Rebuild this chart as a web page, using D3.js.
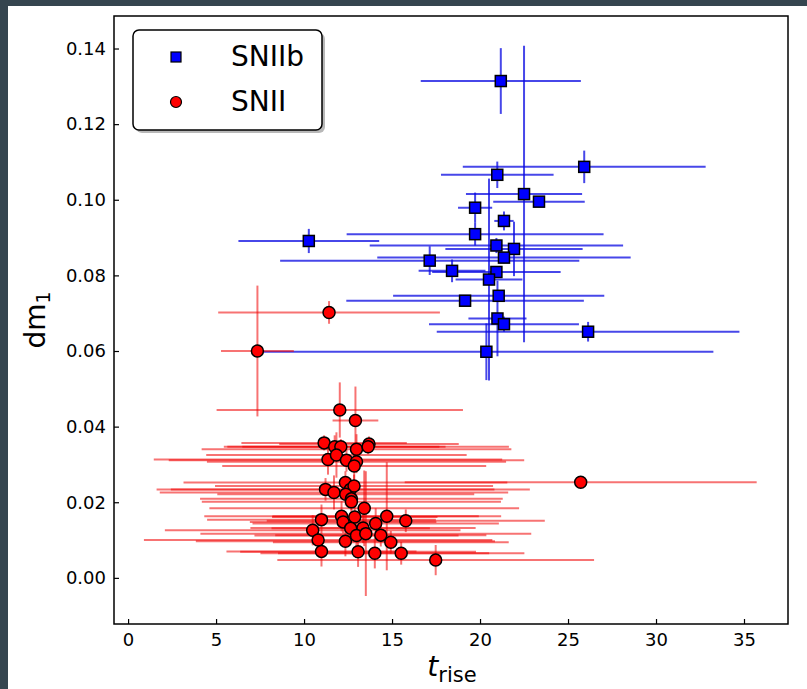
<!DOCTYPE html>
<html>
<head>
<meta charset="utf-8">
<script src="https://cdn.jsdelivr.net/npm/d3@7"></script>
<style>
  html, body { margin: 0; padding: 0; background: #35454f; }
  svg { display: block; }
  text { font-family: "DejaVu Sans", sans-serif; fill: #000; }
</style>
</head>
<body>
<svg id="chart" width="807" height="689"></svg>
<script>
// SNIIb: rise time, error, dm1, error
const snIIbTrise    = [21.18, 25.92, 20.98, 22.50, 23.35, 19.72, 21.36, 19.72, 20.93, 21.93, 21.36,
                       17.14, 10.27, 18.41, 20.93, 20.51, 21.06, 19.15, 20.99, 21.36, 26.14, 20.36];
const snIIbTriseErr = [4.55, 6.9, 3.2, 3.3, 2.6, 0.97, 0.55, 7.3, 7.2, 3.9, 7.2,
                       8.5, 4.0, 1.9, 3.65, 1.9, 6.0, 6.75, 1.65, 4.26, 8.6, 12.9];
const snIIbDm1      = [0.1314, 0.1087, 0.1066, 0.1015, 0.0995, 0.0979, 0.0944, 0.0909, 0.0879, 0.0870, 0.0847,
                       0.0839, 0.0891, 0.0812, 0.0809, 0.0789, 0.0746, 0.0733, 0.0686, 0.0671, 0.0651, 0.0598];
const snIIbDm1Err   = [0.0087, 0.0043, 0.0035, 0.0392, 0.0013, 0.0040, 0.0025, 0.0030, 0.0020, 0.0072, 0.0015,
                       0.0038, 0.0032, 0.0030, 0.0015, 0.0267, 0.0015, 0.0013, 0.0100, 0.0020, 0.0026, 0.0075];

// SNII
const snIITrise    = [12.03, 12.92, 11.14, 11.74, 12.09, 12.98, 13.69, 13.64, 11.36, 11.84, 12.41, 12.98,
                      12.85, 12.35, 11.22, 11.70, 12.63, 12.84, 12.37, 12.69, 12.69, 13.42, 10.99, 12.13,
                      12.22, 12.88, 14.70, 15.78, 10.49, 12.65, 13.35, 14.07, 12.98, 13.51, 14.36, 10.80,
                      12.35, 14.93, 10.99, 13.07, 14.02, 15.52, 11.42, 7.35, 25.72, 17.48];
const snIITriseErr = [7.0, 1.3, 4.7, 6.3, 5.6, 8.8, 5.1, 8.0, 9.9, 7.4, 10.1, 8.5,
                      7.5, 9.2, 9.6, 9.9, 10.2, 7.9, 7.3, 8.6, 8.5, 8.8, 6.5, 7.8,
                      5.3, 4.7, 6.5, 7.9, 8.4, 4.5, 6.4, 7.0, 5.8, 9.4, 6.0, 9.9,
                      8.5, 6.7, 5.4, 6.7, 6.5, 7.0, 6.3, 2.07, 10.0, 9.0];
const snIIDm1      = [0.0444, 0.0416, 0.0357, 0.0347, 0.0347, 0.0340, 0.0354, 0.0347, 0.0313, 0.0325, 0.0311, 0.0307,
                      0.0296, 0.0252, 0.0234, 0.0226, 0.0234, 0.0243, 0.0221, 0.0209, 0.0201, 0.0184, 0.0154, 0.0163,
                      0.0148, 0.0161, 0.0163, 0.0151, 0.0126, 0.0131, 0.0132, 0.0144, 0.0112, 0.0117, 0.0113, 0.0100,
                      0.0097, 0.0094, 0.0070, 0.0069, 0.0065, 0.0065, 0.0702, 0.0600, 0.0253, 0.0047];
const snIIDm1Err   = [0.0073, 0.0090, 0.0020, 0.0030, 0.0020, 0.0040, 0.0020, 0.0020, 0.0040, 0.0060, 0.0030, 0.0030,
                      0.0040, 0.0030, 0.0030, 0.0045, 0.0030, 0.0030, 0.0030, 0.0030, 0.0030, 0.0100, 0.0040, 0.0040,
                      0.0030, 0.0030, 0.0143, 0.0030, 0.0040, 0.0030, 0.0040, 0.0040, 0.0040, 0.0165, 0.0030, 0.0040,
                      0.0040, 0.0030, 0.0040, 0.0040, 0.0040, 0.0030, 0.0030, 0.0173, 0.0015, 0.0040];

const xTicks = [0, 5, 10, 15, 20, 25, 30, 35];
const yTicks = [0.00, 0.02, 0.04, 0.06, 0.08, 0.10, 0.12, 0.14];

const svg = d3.select('#chart');

// white figure area
svg.append('rect').attr('x', 8).attr('y', 6).attr('width', 799).attr('height', 683).attr('fill', '#fff');

const axLeft = 114, axRight = 788, axTop = 16, axBottom = 624;
const x = d3.scaleLinear().domain([-0.8, 37.5]).range([axLeft, axRight]);
const y = d3.scaleLinear().domain([-0.0122, 0.1486]).range([axBottom, axTop]);

svg.append('clipPath').attr('id', 'plotclip')
    .append('rect').attr('x', axLeft).attr('y', axTop)
    .attr('width', axRight - axLeft).attr('height', axBottom - axTop);

const plot = svg.append('g').attr('clip-path', 'url(#plotclip)');

function makeRows(tr, trE, dm, dmE) {
    return tr.map((v, i) => ({ x: v, xe: trE[i], y: dm[i], ye: dmE[i] }));
}
const snIIb = makeRows(snIIbTrise, snIIbTriseErr, snIIbDm1, snIIbDm1Err);
const snII = makeRows(snIITrise, snIITriseErr, snIIDm1, snIIDm1Err);

function errorBars(g, data, color) {
    const eb = g.append('g').attr('stroke', color).attr('stroke-width', 2);
    eb.selectAll('line.h').data(data).join('line').attr('class', 'h')
        .attr('x1', d => x(d.x - d.xe)).attr('x2', d => x(d.x + d.xe))
        .attr('y1', d => y(d.y)).attr('y2', d => y(d.y));
    eb.selectAll('line.v').data(data).join('line').attr('class', 'v')
        .attr('x1', d => x(d.x)).attr('x2', d => x(d.x))
        .attr('y1', d => y(d.y - d.ye)).attr('y2', d => y(d.y + d.ye));
}

errorBars(plot, snIIb, 'rgba(10,10,225,0.75)');
plot.append('g').selectAll('rect').data(snIIb).join('rect')
    .attr('x', d => x(d.x) - 5.5).attr('y', d => y(d.y) - 5.5)
    .attr('width', 11).attr('height', 11)
    .attr('fill', '#0000ff').attr('stroke', '#000').attr('stroke-width', 1.5);

errorBars(plot, snII, 'rgba(240,0,0,0.55)');
plot.append('g').selectAll('circle').data(snII).join('circle')
    .attr('cx', d => x(d.x)).attr('cy', d => y(d.y)).attr('r', 6)
    .attr('fill', '#ff0000').attr('stroke', '#000').attr('stroke-width', 1.5);

// axes, ticks pointing inward
const xAxis = svg.append('g').attr('transform', `translate(0,${axBottom})`)
    .call(d3.axisBottom(x).tickValues(xTicks).tickFormat(d3.format('d')).tickSize(-5).tickPadding(9));
const yAxis = svg.append('g').attr('transform', `translate(${axLeft},0)`)
    .call(d3.axisLeft(y).tickValues(yTicks).tickFormat(d3.format('.2f')).tickSize(-5).tickPadding(8));
[xAxis, yAxis].forEach(a => {
    a.select('.domain').remove();
    a.selectAll('.tick line').attr('stroke', '#000').attr('stroke-width', 1.2);
    a.selectAll('.tick text').attr('font-size', 18).attr('font-family', '"DejaVu Sans", sans-serif').attr('fill', '#222');
});

svg.append('rect').attr('x', axLeft).attr('y', axTop)
    .attr('width', axRight - axLeft).attr('height', axBottom - axTop)
    .attr('fill', 'none').attr('stroke', '#000').attr('stroke-width', 1.5);

// axis labels
const yl = svg.append('text').attr('transform', 'translate(45,320) rotate(-90)')
    .attr('text-anchor', 'middle').attr('font-size', 28).attr('fill', '#222');
yl.append('tspan').text('dm');
yl.append('tspan').attr('font-size', 19).attr('dy', 5).text('1');

const xl = svg.append('text').attr('x', 452).attr('y', 676)
    .attr('text-anchor', 'middle').attr('fill', '#222');
xl.append('tspan').attr('font-size', 28).attr('font-style', 'italic').text('t');
xl.append('tspan').attr('font-size', 21).attr('dy', 6).text('rise');

// legend
const lg = svg.append('g');
lg.append('rect').attr('x', 136).attr('y', 33).attr('width', 189).attr('height', 100).attr('rx', 6)
    .attr('fill', '#888').attr('opacity', 0.6);
lg.append('rect').attr('x', 133).attr('y', 30).attr('width', 189).attr('height', 100).attr('rx', 6)
    .attr('fill', '#fff').attr('stroke', '#000').attr('stroke-width', 1.5);
lg.append('rect').attr('x', 171).attr('y', 52).attr('width', 10).attr('height', 10)
    .attr('fill', '#0000ff').attr('stroke', '#000').attr('stroke-width', 1.2);
lg.append('circle').attr('cx', 176).attr('cy', 102).attr('r', 5.5)
    .attr('fill', '#ff0000').attr('stroke', '#000').attr('stroke-width', 1.2);
lg.append('text').attr('x', 231).attr('y', 66).attr('font-size', 28).text('SNIIb');
lg.append('text').attr('x', 231).attr('y', 111).attr('font-size', 28).text('SNII');
</script>
</body>
</html>
